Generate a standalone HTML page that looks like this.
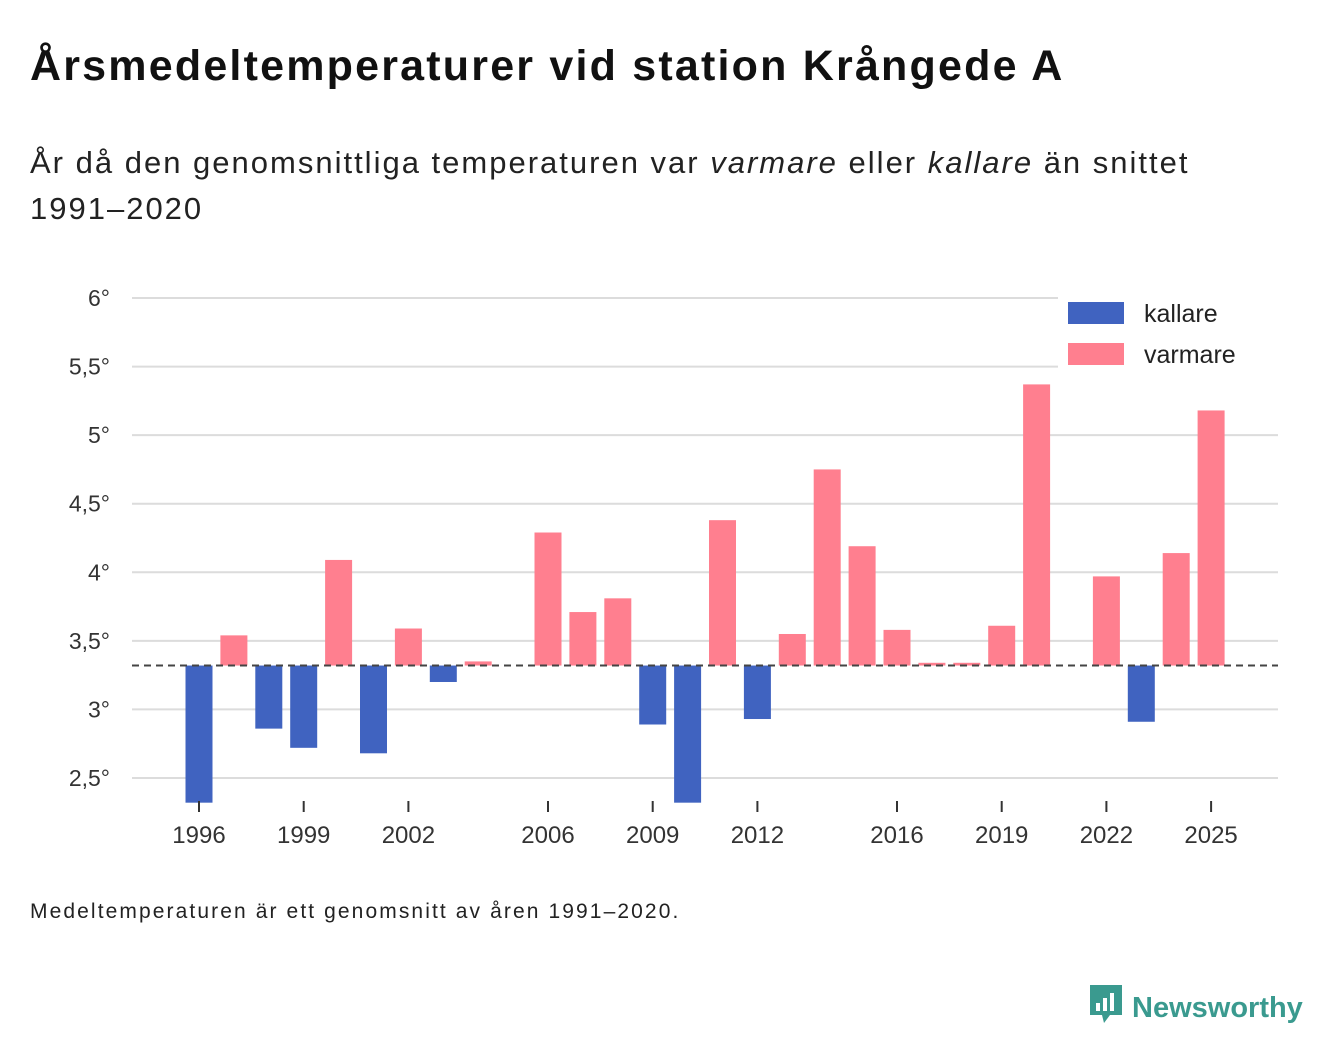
<!DOCTYPE html>
<html><head><meta charset="utf-8">
<style>
body{margin:0;background:#fff;width:1340px;height:1056px;overflow:hidden;font-family:"Liberation Sans",sans-serif;color:#111;}
.t{position:absolute;left:30px;top:42px;font-size:43px;font-weight:bold;letter-spacing:2.2px;white-space:nowrap}
.s{position:absolute;left:30px;top:140px;font-size:31px;line-height:46px;color:#222;width:1260px;letter-spacing:2px}
.f{position:absolute;left:30px;top:900px;font-size:21px;color:#222;letter-spacing:2.1px;white-space:nowrap}
.logo{position:absolute;left:1088px;top:983px;font-size:29px;font-weight:bold;color:#3a9a8f}
</style></head><body>
<div class="t">Årsmedeltemperaturer vid station Krångede A</div>
<div class="s">År då den genomsnittliga temperaturen var <i>varmare</i> eller <i>kallare</i> än snittet<br>1991–2020</div>
<svg id="c" width="1340" height="1056" style="position:absolute;left:0;top:0"></svg>
<div class="f">Medeltemperaturen är ett genomsnitt av åren 1991–2020.</div>
<div class="logo"><svg width="36" height="42" style="vertical-align:-8px;margin-right:8px"><path d="M2 2h32v30H22l-6 8-2-8H2z" fill="#3a9a8f"/><rect x="8" y="20" width="4" height="8" fill="#fff"/><rect x="15" y="15" width="4" height="13" fill="#fff"/><rect x="22" y="10" width="4" height="18" fill="#fff"/></svg>Newsworthy</div>
<script>
const years=[1996,1997,1998,1999,2000,2001,2002,2003,2004,2005,2006,2007,2008,2009,2010,2011,2012,2013,2014,2015,2016,2017,2018,2019,2020,2021,2022,2023,2024,2025];
const temps=[2.32,3.54,2.86,2.72,4.09,2.68,3.59,3.20,3.35,null,4.29,3.71,3.81,2.89,2.32,4.38,2.93,3.55,4.75,4.19,3.58,3.34,3.34,3.61,5.37,null,3.97,2.91,4.14,5.18];
const mean=3.32;
const yTicks=[2.5,3,3.5,4,4.5,5,5.5,6];
const xTickYears=[1996,1999,2002,2006,2009,2012,2016,2019,2022,2025];
const svg=document.getElementById('c');const NS='http://www.w3.org/2000/svg';
const y=v=>298+(6-v)*137.14;
const x=yr=>199+(yr-1996)*34.9;
function mk(t,a){const e=document.createElementNS(NS,t);for(const k in a)e.setAttribute(k,a[k]);svg.appendChild(e);return e;}
yTicks.forEach(v=>{
 const g=mk('line',{x1:132,x2:1278,y1:y(v),y2:y(v),stroke:'#dcdcdc','stroke-width':2});
 
 
 const t=mk('text',{x:110,y:y(v)+8,'text-anchor':'end','font-size':23,fill:'#333','font-family':'Liberation Sans, sans-serif'});
 t.textContent=String(v).replace('.',',')+'°';
 
 
});
years.forEach((yr,i)=>{
 const v=temps[i];if(v==null)return;
 const top=y(Math.max(v,mean)),bot=y(Math.min(v,mean));
 const r=mk('rect',{x:x(yr)-13.5,y:top,width:27,height:Math.max(bot-top,1),fill:v<mean?'#4063c0':'#ff7f8f'});
 
 
});
const d=mk('line',{x1:132,x2:1278,y1:y(mean),y2:y(mean),stroke:'#444','stroke-width':2,'stroke-dasharray':'7,5'});


xTickYears.forEach(yr=>{
 const l=mk('line',{x1:x(yr),x2:x(yr),y1:801,y2:812,stroke:'#333','stroke-width':2});
 
 
 const t=mk('text',{x:x(yr),y:843,'text-anchor':'middle','font-size':24,fill:'#333','font-family':'Liberation Sans, sans-serif'});
 t.textContent=yr;
 
 
});
const lb=mk('rect',{x:1058,y:288,width:220,height:84,fill:'#fff'});


[['kallare','#4063c0',302],['varmare','#ff7f8f',343]].forEach(([n,c,yy])=>{
 const r=mk('rect',{x:1068,y:yy,width:56,height:22,fill:c});
 
 
 const t=mk('text',{x:1144,y:yy+20,'font-size':25,fill:'#222','font-family':'Liberation Sans, sans-serif'});
 t.textContent=n;
 
 
});
</script>
</body></html>
